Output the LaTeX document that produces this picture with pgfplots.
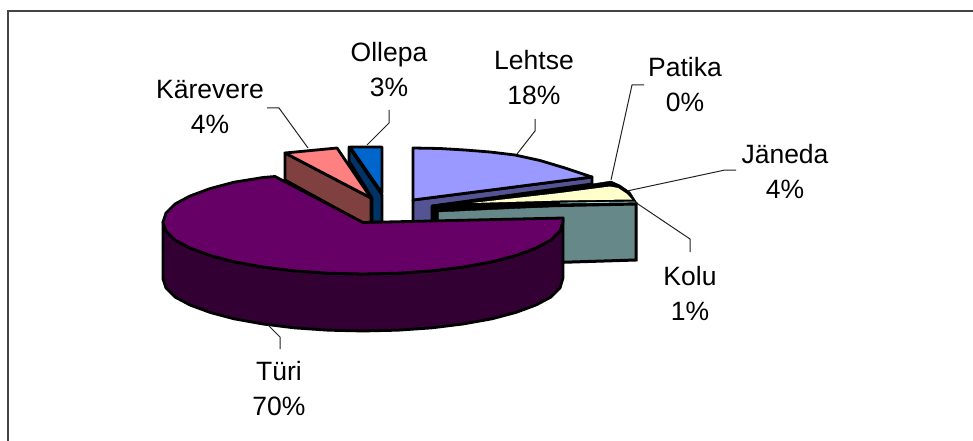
\documentclass[border=0pt]{standalone}
\usepackage{fontspec}
\setmainfont{Liberation Sans}
\usepackage{pgfplots}
\pgfplotsset{compat=1.18}
\definecolor{lehtT}{HTML}{9999FF}
\definecolor{lehtS}{HTML}{545494}
\definecolor{janT}{HTML}{FFFFCC}
\definecolor{koluS}{HTML}{668888}
\definecolor{turiT}{HTML}{660066}
\definecolor{turiS}{HTML}{330033}
\definecolor{karT}{HTML}{FF8080}
\definecolor{karS}{HTML}{804040}
\definecolor{olT}{HTML}{0066CC}
\definecolor{olS}{HTML}{003366}
\definecolor{frm}{HTML}{444444}
\definecolor{ldr}{HTML}{222222}
\tikzset{
  slice/.style={draw=black,line width=2.8bp,line join=round},
  leader/.style={draw=ldr,line width=1bp},
  lab/.style={align=center,font=\fontsize{26.5bp}{35bp}\selectfont,inner sep=0pt}}
\begin{document}
\begin{tikzpicture}
\path[use as bounding box] (0,0) rectangle (973bp,441bp);
\begin{axis}[at={(0,0)},anchor=south west,scale only axis,width=973bp,height=441bp,
  xmin=0,xmax=973,ymin=0,ymax=441,y dir=reverse,axis lines=none,clip=false]
% frame
\addplot[frm,line width=2bp,no marks] coordinates {(7.5,441)(7.5,11)(973,11)};
% Ollepa side and top
\addplot[slice,fill=olS,no marks] coordinates {(349,147)(349,161)(372,198)(372,222)(382,222)(382,195)} -- cycle;
\addplot[slice,fill=olT,no marks] coordinates {(350,147)(382,147)(382,193)} -- cycle;
% Karevere
\addplot[slice,fill=karS,no marks] coordinates {(285,153)(285,180)(363,223)(371,223)(371,198)} -- cycle;
\addplot[slice,fill=karT,no marks] coordinates {(285,153)(337,148)(371,198)} -- cycle;
% Lehtse
\addplot[slice,fill=lehtS,no marks] coordinates {(413,200)(592,177)(592,184)(432,206)(432,222)(413,222)} -- cycle;
\addplot[slice,fill=lehtT,no marks] coordinates {(413,148)(440,148.5)(465,150)(490,152)(515,155)(540,160.5)(565,168)(592,177)(413,200)} -- cycle;
% Kolu side
\addplot[draw=black,line width=3bp,fill=koluS,no marks] coordinates {(437,208)(636,204)(636,260)(540,263)(437,263)} -- cycle;
% Janeda and Patika top
\addplot[draw=black,fill=black,no marks] coordinates {(432,205)(560,189)(611,181)(620,185)(630,192)(637,203)(438,212)(438,222)(432,222)} -- cycle;
\addplot[draw=none,fill=janT,no marks] coordinates {(472,203)(560,193)(610,186.5)(618,188)(627,194)(632,199.5)(560,200.5)} -- cycle;
\addplot[draw={rgb,255:red,150;green,210;blue,210},line width=0.8bp,no marks] coordinates {(560,203)(635,202)};
% Turi side
\addplot[slice,fill=turiS,no marks] coordinates {(563,218)(563,278)(560,288)(551,297)(536,305)(516,312.4)(492,318.8)(463,324)(431.4,327.9)(397.7,330.2)(363,331)(328.3,330.2)(294.6,327.9)(263,324)(234,318.8)(210,312.4)(190,305)(175,297)(166,288)(163,279)(163,222)(166,231)(175,240)(190,248)(210,255.4)(234,261.8)(263,267)(294.6,270.9)(328.3,273.2)(363,274)(397.7,273.2)(431.4,270.9)(463,267)(492,261.8)(516,255.4)(536,248)(551,240)(560,231)(563,222)} -- cycle;
% Turi top
\addplot[slice,fill=turiT,no marks] coordinates {(363,222.5)(275,176.5)(263,177.5)(234,182.2)(210,188.6)(190,196)(175,204)(166,213)(163,222)(166,231)(175,240)(190,248)(210,255.4)(234,261.8)(263,267)(294.6,270.9)(328.3,273.2)(363,274)(397.7,273.2)(431.4,270.9)(463,267)(492,261.8)(516,255.4)(536,248)(551,240)(560,231)(563,222)(563,218)} -- cycle;
% leaders
\addplot[leader,no marks] coordinates {(267,108)(279,108)(308,148)};
\addplot[leader,no marks] coordinates {(389,110)(389,123)(367,145)};
\addplot[leader,no marks] coordinates {(535,119)(535,131)(517,154)};
\addplot[leader,no marks] coordinates {(644,85)(632,85)(611,180)};
\addplot[leader,no marks] coordinates {(736,170)(725,170)(627,191)};
\addplot[leader,no marks] coordinates {(690,252)(690,239)(635,202)};
\addplot[leader,no marks] coordinates {(280,349)(280,337)(268,325)};
% labels
\node[lab] at (axis cs:389,69.5) {Ollepa\\3\%};
\node[lab] at (axis cs:534,77.5) {Lehtse\\18\%};
\node[lab] at (axis cs:685,84.5) {Patika\\0\%};
\node[lab] at (axis cs:785,171) {Jäneda\\4\%};
\node[lab] at (axis cs:210,106.5) {Kärevere\\4\%};
\node[lab] at (axis cs:690,293) {Kolu\\1\%};
\node[lab] at (axis cs:279,388.5) {Türi\\70\%};
\end{axis}
\end{tikzpicture}
\end{document}
